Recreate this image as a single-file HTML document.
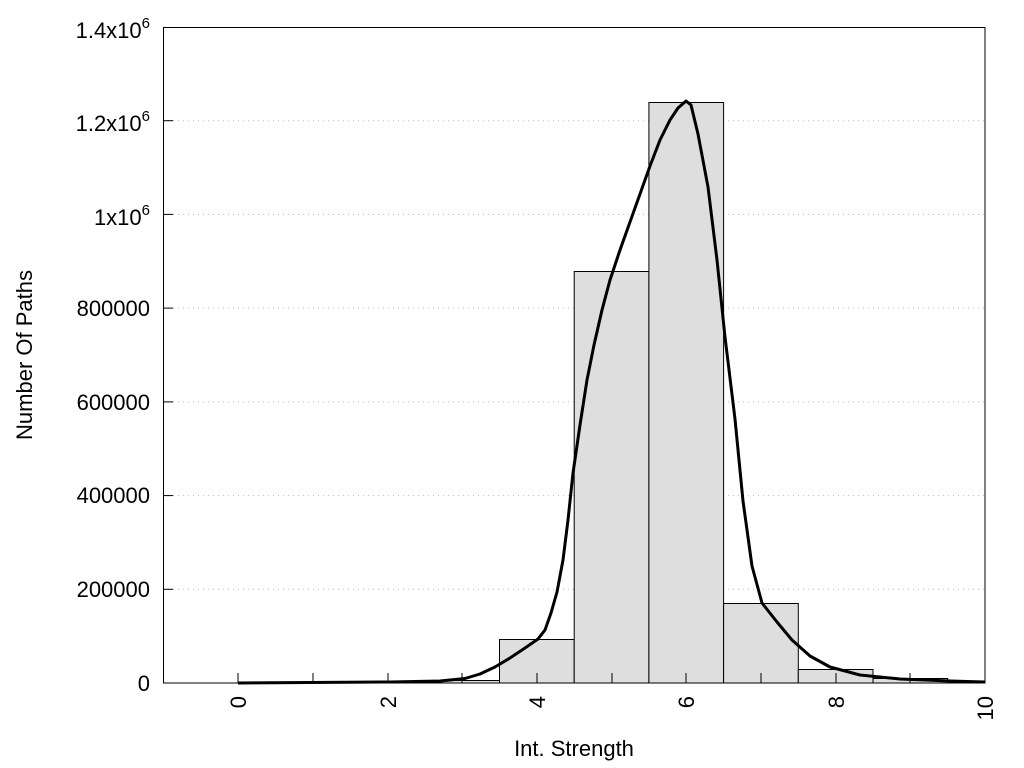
<!DOCTYPE html>
<html><head><meta charset="utf-8"><style>
html,body{margin:0;padding:0;background:#fff;}
svg{display:block;font-family:"Liberation Sans",Arial,sans-serif;}
</style></head><body>
<svg width="1024" height="768" viewBox="0 0 1024 768" xmlns="http://www.w3.org/2000/svg">
<g stroke="#bbb" stroke-width="1" stroke-dasharray="1,4">
<line x1="163" y1="589.3" x2="985" y2="589.3"/>
<line x1="163" y1="495.6" x2="985" y2="495.6"/>
<line x1="163" y1="401.9" x2="985" y2="401.9"/>
<line x1="163" y1="308.1" x2="985" y2="308.1"/>
<line x1="163" y1="214.4" x2="985" y2="214.4"/>
<line x1="163" y1="120.7" x2="985" y2="120.7"/>
</g>
<g fill="#dedede" stroke="#000" stroke-width="1">
<rect x="425" y="680.5" width="74.7" height="2.5"/>
<rect x="499.5" y="639.5" width="74.7" height="43.5"/>
<rect x="574.2" y="271.5" width="74.7" height="411.5"/>
<rect x="648.9" y="102.5" width="74.7" height="580.5"/>
<rect x="723.6" y="603.5" width="74.7" height="79.5"/>
<rect x="798.3" y="669.5" width="74.7" height="13.5"/>
<rect x="873" y="678.5" width="74.7" height="4.5"/>
<rect x="947.7" y="681" width="37.3" height="2"/>
</g>
<path d="M238,683 L390,682 L440,681 L465,678.5 L480,674 L495,667 L510,658 L525,648 L538,639 L545,630 L551,613 L557,592 L563,560 L568,520 L573,473 L580,425 L587,380 L594,345 L602,310 L610,280 L620,250 L630,222 L640,194 L650,166 L660,140 L670,120 L678,108 L686,101 L691,105 L698,134 L708,187 L717,260 L725,337 L735,419 L743,501 L752,566 L762,603 L777,622 L792,640 L810,656 L830,667 L860,675 L900,679 L950,681 L985,682" fill="none" stroke="#000" stroke-width="3" stroke-linejoin="round"/>
<rect x="163.5" y="27.5" width="821.5" height="655.5" fill="none" stroke="#000" stroke-width="1"/>
<g stroke="#000" stroke-width="1">
<line x1="238" y1="683" x2="238" y2="673"/>
<line x1="313" y1="683" x2="313" y2="673"/>
<line x1="388" y1="683" x2="388" y2="673"/>
<line x1="462" y1="683" x2="462" y2="673"/>
<line x1="537" y1="683" x2="537" y2="673"/>
<line x1="612" y1="683" x2="612" y2="673"/>
<line x1="686" y1="683" x2="686" y2="673"/>
<line x1="761" y1="683" x2="761" y2="673"/>
<line x1="836" y1="683" x2="836" y2="673"/>
<line x1="910" y1="683" x2="910" y2="673"/>
<line x1="163" y1="589.3" x2="173" y2="589.3"/>
<line x1="163" y1="495.6" x2="173" y2="495.6"/>
<line x1="163" y1="401.9" x2="173" y2="401.9"/>
<line x1="163" y1="308.1" x2="173" y2="308.1"/>
<line x1="163" y1="214.4" x2="173" y2="214.4"/>
<line x1="163" y1="120.7" x2="173" y2="120.7"/>
</g>
<g font-size="22" text-anchor="end" fill="#000">
<text x="150" y="691">0</text>
<text x="150" y="597">200000</text>
<text x="150" y="503">400000</text>
<text x="150" y="410">600000</text>
<text x="150" y="316">800000</text>
<text x="150" y="225">1x10<tspan font-size="15" dy="-10">6</tspan></text>
<text x="150" y="131">1.2x10<tspan font-size="15" dy="-10">6</tspan></text>
<text x="150" y="38">1.4x10<tspan font-size="15" dy="-10">6</tspan></text>
</g>
<g font-size="22" fill="#000">
<text transform="translate(246,696) rotate(-90)" text-anchor="end">0</text>
<text transform="translate(396,696) rotate(-90)" text-anchor="end">2</text>
<text transform="translate(545,696) rotate(-90)" text-anchor="end">4</text>
<text transform="translate(694,696) rotate(-90)" text-anchor="end">6</text>
<text transform="translate(844,696) rotate(-90)" text-anchor="end">8</text>
<text transform="translate(993,696) rotate(-90)" text-anchor="end">10</text>
</g>
<text x="574" y="756" font-size="22" text-anchor="middle">Int. Strength</text>
<text transform="translate(32,355) rotate(-90)" font-size="22" text-anchor="middle">Number Of Paths</text>
</svg>
</body></html>
